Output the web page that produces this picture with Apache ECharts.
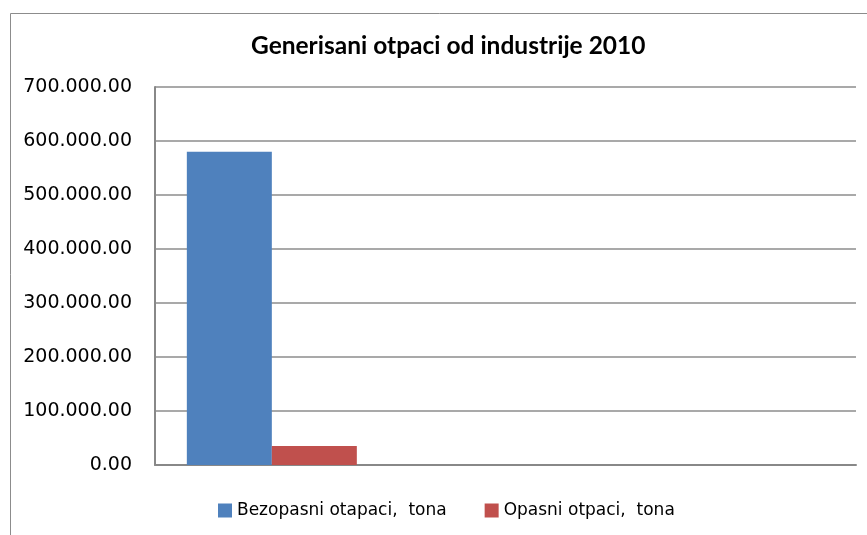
<!DOCTYPE html>
<html><head><meta charset="utf-8">
<script src="https://cdn.jsdelivr.net/npm/echarts@6/dist/echarts.min.js"></script>
<style>html,body{margin:0;padding:0;background:#fff}#c{width:867px;height:535px}</style>
</head><body><div id="c"></div>
<script>
const title = 'Generisani otpaci od industrije 2010';
const categories = ['2010', '', ''];
const seriesNames = ['Bezopasni otapaci,  tona', 'Opasni otpaci,  tona'];
const bezopasni = [580000, null, null];
const opasni = [35000, null, null];
const yTicks = { min: 0, max: 700000, interval: 100000 };

function fmt(v) {
  const s = Math.round(v).toString().replace(/\B(?=(\d{3})+(?!\d))/g, '.');
  return s + '.00';
}

const chart = echarts.init(document.getElementById('c'), null, { renderer: 'canvas' });
chart.setOption({
  animation: false,
  backgroundColor: '#fff',
  graphic: [{
    type: 'rect', left: 8, top: 11, silent: true,
    shape: { width: 900, height: 600 },
    style: { fill: 'none', stroke: '#8c8c8c', lineWidth: 1 }
  }],
  title: {
    text: title, left: 246, top: 29,
    textStyle: { fontFamily: 'Lato', fontWeight: 'bold', fontSize: 24.5, color: '#000' }
  },
  legend: {
    bottom: 11, left: 213, itemWidth: 14, itemHeight: 14, itemGap: 38,
    icon: 'rect',
    textStyle: { fontFamily: 'DejaVu Sans', fontSize: 17, color: '#000' },
    data: seriesNames
  },
  grid: { left: 155, right: 11, top: 87, bottom: 70, containLabel: false },
  xAxis: {
    type: 'category', data: categories,
    axisLine: { lineStyle: { color: '#888', width: 2 } },
    axisTick: { show: false }, axisLabel: { show: false }
  },
  yAxis: {
    type: 'value', min: yTicks.min, max: yTicks.max, interval: yTicks.interval,
    axisLine: { show: true, lineStyle: { color: '#888', width: 2 } },
    axisTick: { show: false },
    splitLine: { lineStyle: { color: '#8c8c8c', width: 1.5 } },
    axisLabel: { formatter: fmt, margin: 23, fontFamily: 'DejaVu Sans', fontSize: 19, color: '#000' }
  },
  series: [
    { name: seriesNames[0], type: 'bar', data: bezopasni, barWidth: 85, barGap: '0%', itemStyle: { color: '#4F81BD' } },
    { name: seriesNames[1], type: 'bar', data: opasni, barWidth: 85, barGap: '0%', itemStyle: { color: '#C0504D' } }
  ]
});
</script></body></html>
